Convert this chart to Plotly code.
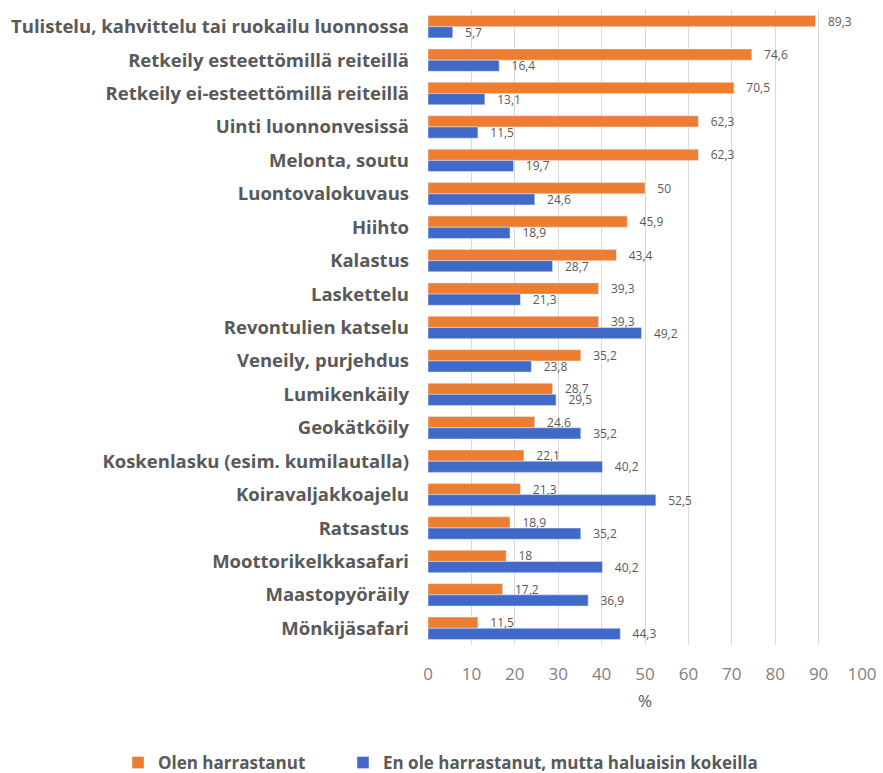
import plotly.graph_objects as go

categories = [
    "Tulistelu, kahvittelu tai ruokailu luonnossa",
    "Retkeily esteettömillä reiteillä",
    "Retkeily ei-esteettömillä reiteillä",
    "Uinti luonnonvesissä",
    "Melonta, soutu",
    "Luontovalokuvaus",
    "Hiihto",
    "Kalastus",
    "Laskettelu",
    "Revontulien katselu",
    "Veneily, purjehdus",
    "Lumikenkäily",
    "Geokätköily",
    "Koskenlasku (esim. kumilautalla)",
    "Koiravaljakkoajelu",
    "Ratsastus",
    "Moottorikelkkasafari",
    "Maastopyöräily",
    "Mönkijäsafari",
]
olen = [89.3, 74.6, 70.5, 62.3, 62.3, 50, 45.9, 43.4, 39.3, 39.3, 35.2, 28.7, 24.6, 22.1, 21.3, 18.9, 18, 17.2, 11.5]
haluaisin = [5.7, 16.4, 13.1, 11.5, 19.7, 24.6, 18.9, 28.7, 21.3, 49.2, 23.8, 29.5, 35.2, 40.2, 52.5, 35.2, 40.2, 36.9, 44.3]
series_names = ["Olen harrastanut", "En ole harrastanut, mutta haluaisin kokeilla"]

def fmt(v):
    s = ("%g" % v)
    return "\u00a0\u00a0\u00a0" + s.replace(".", ",")

common_text = dict(size=12, color="#595959", family="Open Sans")

fig = go.Figure()
fig.add_trace(go.Bar(
    y=categories, x=olen, orientation="h", name=series_names[0],
    marker=dict(color="#ED7D31"),
    text=[fmt(v) for v in olen], textposition="outside",
    textfont=common_text, constraintext="none",
    cliponaxis=False, legend="legend",
))
fig.add_trace(go.Bar(
    y=categories, x=haluaisin, orientation="h", name=series_names[1],
    marker=dict(color="#4169C8"),
    text=[fmt(v) for v in haluaisin], textposition="outside",
    textfont=common_text, constraintext="none",
    cliponaxis=False, legend="legend2",
))

L, R, T, B = 428, 21, 10, 128
H = 773 - T - B
W = 883 - L - R
legend_font = dict(size=17, color="#595959", family="Open Sans", weight="bold")
fig.update_layout(
    width=883, height=773,
    margin=dict(l=L, r=R, t=T, b=B, autoexpand=False),
    paper_bgcolor="white", plot_bgcolor="white",
    barmode="group", bargap=0.33, bargroupgap=0,
    font=dict(family="Open Sans", color="#595959"),
    xaxis=dict(
        range=[0, 100], dtick=10, showgrid=True, gridcolor="#D9D9D9", gridwidth=1,
        zeroline=False, showline=False, automargin=False,
        ticks="outside", ticklen=14, tickcolor="rgba(0,0,0,0)",
        tickfont=dict(size=17, color="#7F7F7F"),
        title=dict(text="%", font=dict(size=17, color="#595959"), standoff=10),
    ),
    yaxis=dict(
        autorange="reversed", showgrid=False, zeroline=False, automargin=False,
        ticks="", ticklabelstandoff=18,
        tickfont=dict(size=18.5, color="#595959", family="Open Sans", weight="bold"),
    ),
    legend=dict(
        orientation="h", x=(118 - L) / W, xanchor="left",
        y=-(745 - (T + H)) / H, yanchor="top",
        font=legend_font, itemwidth=30,
    ),
    legend2=dict(
        orientation="h", x=(343 - L) / W, xanchor="left",
        y=-(745 - (T + H)) / H, yanchor="top",
        font=legend_font, itemwidth=30,
    ),
    showlegend=True,
)

fig.write_html("out.html", config={"displayModeBar": False},
               post_script="document.body.style.margin='0';document.body.style.padding='0';")
